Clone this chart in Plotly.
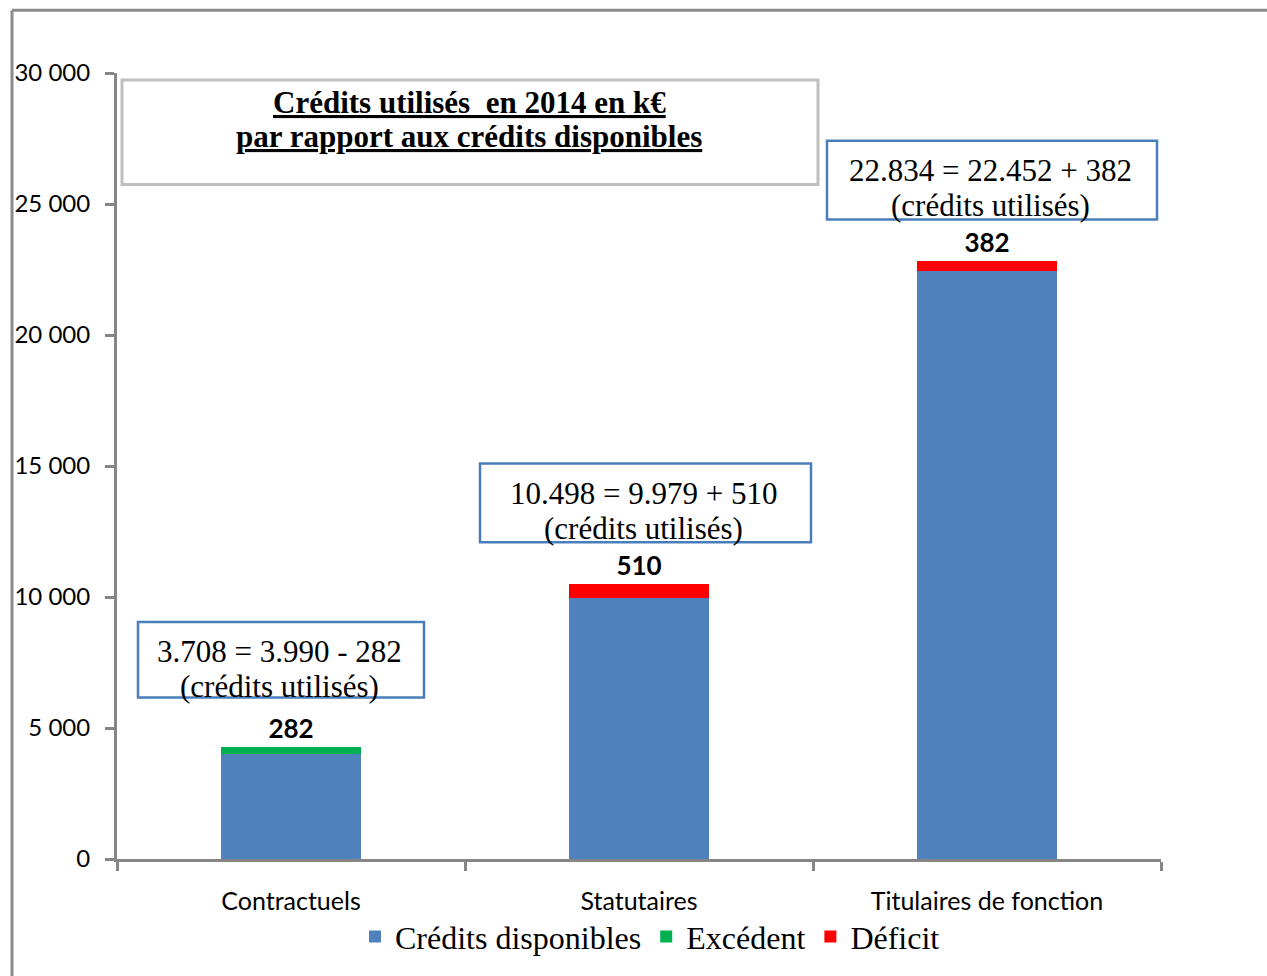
import plotly.graph_objects as go

# ---- data ----
categories = ["Contractuels", "Statutaires", "Titulaires de fonction"]
credits_disponibles = [3990, 9979, 22452]
excedent = [282, None, None]
deficit = [None, 510, 382]
credits_utilises = [3708, 10498, 22834]

y_tick_values = [0, 5000, 10000, 15000, 20000, 25000, 30000]
y_tick_labels = ["0", "5 000", "10 000", "15 000", "20 000", "25 000", "30 000"]

# ---- geometry of the figure (pixels) ----
W, H = 1267, 976
PL, PR, PT, PB = 117, 1161, 73, 862


def fx(px):
    return (px - PL) / (PR - PL)


def fy(py):
    return (PB - py) / (PB - PT)


def fmt(v):
    return f"{v:,}".replace(",", ".")


BLUE = "#4F81BD"
GREEN = "#00B050"
RED = "#FF0000"
AXIS = "#868686"
SANS = "Lato, Liberation Sans, sans-serif"
SERIF = "Liberation Serif, Times New Roman, serif"

fig = go.Figure()

fig.add_trace(go.Bar(
    name="Crédits disponibles", x=categories, y=credits_disponibles,
    marker=dict(color=BLUE, line=dict(width=0)),
))
fig.add_trace(go.Bar(
    name="Excédent", x=categories, y=excedent,
    marker=dict(color=GREEN, line=dict(width=0)),
    text=[fmt(v) if v is not None else "" for v in excedent],
    textposition="outside",
    textfont=dict(family=SANS, size=26, color="black", weight="bold"),
    cliponaxis=False,
))
fig.add_trace(go.Bar(
    name="Déficit", x=categories, y=deficit,
    marker=dict(color=RED, line=dict(width=0)),
    text=[fmt(v) if v is not None else "" for v in deficit],
    textposition="outside",
    textfont=dict(family=SANS, size=26, color="black", weight="bold"),
    cliponaxis=False,
))

shapes = []
annotations = []

# outer chart frame (top and left edges)
shapes.append(dict(type="line", xref="paper", yref="paper",
                   x0=fx(12), x1=fx(W + 5), y0=fy(10), y1=fy(10),
                   line=dict(color="#8C8C8C", width=3)))
shapes.append(dict(type="line", xref="paper", yref="paper",
                   x0=fx(12), x1=fx(12), y0=fy(10), y1=fy(H + 5),
                   line=dict(color="#8C8C8C", width=3)))

# title box
shapes.append(dict(type="rect", xref="paper", yref="paper",
                   x0=fx(122), x1=fx(818), y0=fy(185), y1=fy(80),
                   line=dict(color="#BFBFBF", width=3), fillcolor="white",
                   layer="above"))
title_lines = [("Crédits utilisés  en 2014 en k€", 103),
               ("par rapport aux crédits disponibles", 137)]
for txt, yc in title_lines:
    annotations.append(dict(
        xref="paper", yref="paper", x=fx(469), y=fy(yc),
        xanchor="center", yanchor="middle", showarrow=False,
        text=f"<b><u>{txt}</u></b>",
        font=dict(family=SERIF, size=31, color="black"),
    ))

# boxes describing the credits used per category
boxes = [(138, 624, 424, 700), (480, 465, 811, 544), (827, 141, 1157, 220)]
for i, (x0, y0, x1, y1) in enumerate(boxes):
    shapes.append(dict(type="rect", xref="paper", yref="paper",
                       x0=fx(x0), x1=fx(x1), y0=fy(y1), y1=fy(y0),
                       line=dict(color="#4A7EBB", width=2.5),
                       fillcolor="white", layer="above"))
    if excedent[i] is not None:
        eq = f"{fmt(credits_utilises[i])} = {fmt(credits_disponibles[i])} - {fmt(excedent[i])}"
    else:
        eq = f"{fmt(credits_utilises[i])} = {fmt(credits_disponibles[i])} + {fmt(deficit[i])}"
    xc = (x0 + x1) / 2 - 2
    annotations.append(dict(
        xref="paper", yref="paper", x=fx(xc), y=fy(y0 + 30),
        xanchor="center", yanchor="middle", showarrow=False, text=eq,
        font=dict(family=SERIF, size=31, color="black"),
    ))
    annotations.append(dict(
        xref="paper", yref="paper", x=fx(xc), y=fy(y0 + 65),
        xanchor="center", yanchor="middle", showarrow=False,
        text="(crédits utilisés)",
        font=dict(family=SERIF, size=31, color="black"),
    ))

fig.update_layout(
    width=W, height=H,
    margin=dict(l=PL, r=W - PR, t=PT, b=H - PB),
    paper_bgcolor="white", plot_bgcolor="white",
    barmode="stack", bargap=0.6,
    showlegend=True,
    legend=dict(orientation="h", x=fx(650), y=fy(940),
                xanchor="center", yanchor="middle",
                font=dict(family=SERIF, size=32, color="black"),
                itemsizing="constant", traceorder="normal",
                bgcolor="rgba(0,0,0,0)"),
    xaxis=dict(showline=True, linecolor=AXIS, linewidth=3,
               ticks="outside", tickson="boundaries", ticklen=9,
               tickwidth=3, tickcolor=AXIS, showgrid=False,
               tickfont=dict(family=SANS, size=25, color="black"),
               ticklabelstandoff=18),
    yaxis=dict(range=[0, 30000], showline=True, linecolor=AXIS, linewidth=3,
               ticks="outside", ticklen=9, tickwidth=3, tickcolor=AXIS,
               tickvals=y_tick_values, ticktext=y_tick_labels,
               showgrid=False, zeroline=False,
               tickfont=dict(family=SANS, size=24, color="black"),
               ticklabelstandoff=10),
    shapes=shapes,
    annotations=annotations,
)

fig.write_html("out.html")
